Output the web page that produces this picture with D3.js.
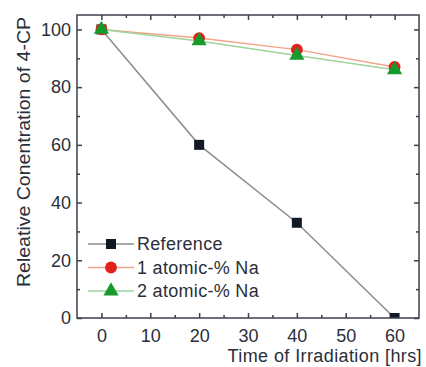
<!DOCTYPE html>
<html>
<head>
<meta charset="utf-8">
<script src="https://cdn.jsdelivr.net/npm/d3@7/dist/d3.min.js"></script>
<style>
  body { margin: 0; background: #fff; }
  svg text { font-family: "Liberation Sans", Arial, sans-serif; fill: #2b2f3a; }
</style>
</head>
<body>
<div id="chart"></div>
<script>
const hours = [0, 20, 40, 60];
const referenceVals = [100, 60, 33, 0];
const na1Vals = [100, 97, 93, 87];
const na2Vals = [100, 96, 91, 86];
const xTicks = [0, 10, 20, 30, 40, 50, 60];
const yTicks = [0, 20, 40, 60, 80, 100];
const seriesNames = ["Reference", "1 atomic-% Na", "2 atomic-% Na"];

const width = 426, height = 367;
const margin = {top: 15, right: 7, bottom: 49, left: 77};
const w = width - margin.left - margin.right;
const h = height - margin.top - margin.bottom;
const frameColor = "#3b404c";

const svg = d3.select("#chart").append("svg")
  .attr("width", width)
  .attr("height", height);

const g = svg.append("g")
  .attr("transform", "translate(" + margin.left + "," + margin.top + ")");

const x = d3.scaleLinear().domain([-5, 65]).range([0, w]);
const y = d3.scaleLinear().domain([0, 105]).range([h, 0]);

// axes, ticks pointing inward, mirrored on top/right
const styleAxis = sel => {
  sel.selectAll(".domain").remove();
  sel.selectAll("line").attr("stroke", frameColor).attr("stroke-width", 1.5);
  sel.selectAll("text").style("font-size", "18px");
};
const minorX = d3.range(5, 65, 10);
const minorY = d3.range(10, 105, 20);

g.append("g").attr("transform", "translate(0," + h + ")")
  .call(d3.axisBottom(x).tickValues(xTicks).tickSize(-5).tickPadding(11))
  .call(styleAxis);
g.append("g").attr("transform", "translate(0," + h + ")")
  .call(d3.axisBottom(x).tickValues(minorX).tickSize(-3).tickFormat(""))
  .call(styleAxis);
g.append("g")
  .call(d3.axisTop(x).tickValues(xTicks).tickSize(-5).tickFormat(""))
  .call(styleAxis);
g.append("g")
  .call(d3.axisTop(x).tickValues(minorX).tickSize(-3).tickFormat(""))
  .call(styleAxis);

g.append("g")
  .call(d3.axisLeft(y).tickValues(yTicks).tickSize(-5).tickPadding(6))
  .call(styleAxis);
g.append("g")
  .call(d3.axisLeft(y).tickValues(minorY).tickSize(-3).tickFormat(""))
  .call(styleAxis);
g.append("g").attr("transform", "translate(" + w + ",0)")
  .call(d3.axisRight(y).tickValues(yTicks).tickSize(-5).tickFormat(""))
  .call(styleAxis);
g.append("g").attr("transform", "translate(" + w + ",0)")
  .call(d3.axisRight(y).tickValues(minorY).tickSize(-3).tickFormat(""))
  .call(styleAxis);

// series
const series = [
  {name: seriesNames[0], vals: referenceVals, line: "#8a8d92", fill: "#111a24", shape: "square"},
  {name: seriesNames[1], vals: na1Vals, line: "#f2a48a", fill: "#e3201c", shape: "circle"},
  {name: seriesNames[2], vals: na2Vals, line: "#9fd49c", fill: "#169a2c", shape: "triangle"}
];

g.append("clipPath").attr("id", "clip")
  .append("rect").attr("width", w).attr("height", h);

const plot = g.append("g").attr("clip-path", "url(#clip)");
const line = d3.line().x(d => x(d[0])).y(d => y(d[1]));

const symbolFor = s => {
  if (s === "square") return d3.symbol().type(d3.symbolSquare).size(100);
  if (s === "circle") return d3.symbol().type(d3.symbolCircle).size(110);
  return d3.symbol().type(d3.symbolTriangle).size(100);
};

series.forEach(s => {
  const pts = hours.map((hr, i) => [hr, s.vals[i]]);
  plot.append("path")
    .datum(pts)
    .attr("fill", "none")
    .attr("stroke", s.line)
    .attr("stroke-width", 1.5)
    .attr("d", line);
});

series.forEach(s => {
  const pts = hours.map((hr, i) => [hr, s.vals[i]]);
  plot.selectAll(null)
    .data(pts)
    .enter().append("path")
    .attr("transform", d => "translate(" + x(d[0]) + "," + y(d[1]) + ")")
    .attr("d", symbolFor(s.shape))
    .attr("fill", s.fill);
});

// frame
g.append("rect")
  .attr("width", w).attr("height", h)
  .attr("fill", "none")
  .attr("stroke", frameColor)
  .attr("stroke-width", 1.5);

// legend
const legend = g.append("g").attr("transform", "translate(11,229)");
series.forEach((s, i) => {
  const row = legend.append("g").attr("transform", "translate(0," + (i * 23.5) + ")");
  row.append("line")
    .attr("x1", 0).attr("x2", 46)
    .attr("stroke", s.line).attr("stroke-width", 1.5);
  row.append("path")
    .attr("transform", "translate(23,0)")
    .attr("d", symbolFor(s.shape))
    .attr("fill", s.fill);
  row.append("text")
    .attr("x", 49).attr("dy", "0.36em")
    .style("font-size", "18px")
    .style("letter-spacing", "0.3px")
    .text(s.name);
});

// axis titles
svg.append("text")
  .attr("x", 422).attr("y", 362)
  .attr("text-anchor", "end")
  .style("font-size", "18px")
  .style("letter-spacing", "0.4px")
  .text("Time of Irradiation [hrs]");

svg.append("text")
  .attr("transform", "translate(30,152) rotate(-90)")
  .attr("text-anchor", "middle")
  .attr("textLength", 270)
  .attr("lengthAdjust", "spacingAndGlyphs")
  .style("font-size", "18px")
  .text("Releative Conentration of 4-CP");
</script>
</body>
</html>
